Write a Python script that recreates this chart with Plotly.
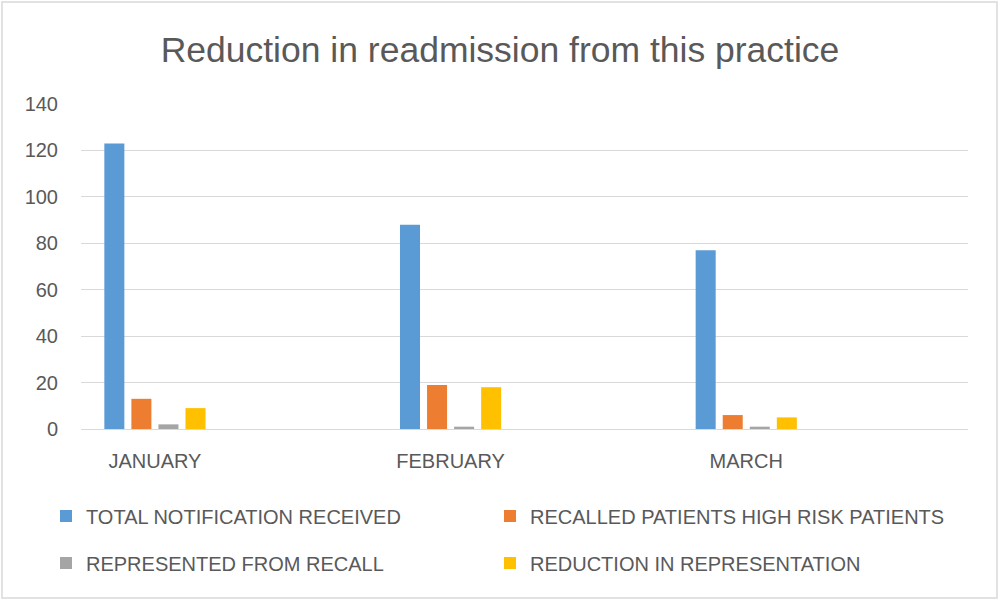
import plotly.graph_objects as go

months = ["JANUARY", "FEBRUARY", "MARCH"]

total_notification = [123, 88, 77]
recalled_high_risk = [13, 19, 6]
represented_from_recall = [2, 1, 1]
reduction_in_representation = [9, 18, 5]

series_names = [
    "TOTAL NOTIFICATION RECEIVED",
    "RECALLED PATIENTS HIGH RISK PATIENTS",
    "REPRESENTED FROM RECALL",
    "REDUCTION IN REPRESENTATION",
]
series_values = [
    total_notification,
    recalled_high_risk,
    represented_from_recall,
    reduction_in_representation,
]
colors = ["#5B9BD5", "#ED7D31", "#A5A5A5", "#FFC000"]

text_color = "#595959"
grid_color = "#D9D9D9"
font_family = "Liberation Sans, Arial, sans-serif"

# one legend per entry so the 2x2 grid sits like the Excel one
legend_ids = ["legend", "legend2", "legend3", "legend4"]
legend_pos = [(0.046, 1 - 516 / 601), (0.490, 1 - 516 / 601),
              (0.046, 1 - 563 / 601), (0.490, 1 - 563 / 601)]

fig = go.Figure()

for name, vals, col, lg in zip(series_names, series_values, colors, legend_ids):
    fig.add_trace(
        go.Bar(
            x=months,
            y=vals,
            name=name,
            marker=dict(color=col, line=dict(width=0)),
            legend=lg,
        )
    )

legend_layout = {}
for lg, (lx, ly) in zip(legend_ids, legend_pos):
    legend_layout[lg] = dict(
        xref="container",
        yref="container",
        x=lx,
        y=ly,
        xanchor="left",
        yanchor="middle",
        font=dict(family=font_family, size=20, color=text_color),
        bgcolor="rgba(0,0,0,0)",
        itemwidth=30,
    )

fig.update_layout(
    width=1000,
    height=601,
    paper_bgcolor="white",
    plot_bgcolor="white",
    barmode="group",
    bargap=0.634,
    bargroupgap=0.26,
    margin=dict(l=81, r=32, t=104, b=172, autoexpand=False),
    title=dict(
        text="Reduction in readmission from this practice",
        x=0.5,
        xanchor="center",
        y=1 - 50 / 601,
        yanchor="middle",
        xref="container",
        yref="container",
        font=dict(family=font_family, size=35.5, color=text_color),
    ),
    showlegend=True,
    shapes=[
        dict(
            type="rect",
            xref="paper",
            yref="paper",
            x0=-0.0891,
            x1=1.0327,
            y0=-0.52,
            y1=1.3138,
            line=dict(color=grid_color, width=1.5),
            fillcolor="rgba(0,0,0,0)",
            layer="below",
        )
    ],
    **legend_layout,
)

fig.update_xaxes(
    type="category",
    range=[-0.25, 2.75],
    showgrid=False,
    showline=True,
    linecolor=grid_color,
    linewidth=1,
    ticks="",
    ticklabelstandoff=14,
    tickfont=dict(family=font_family, size=20, color=text_color),
)

fig.update_yaxes(
    range=[0, 140],
    dtick=20,
    showgrid=True,
    gridcolor=grid_color,
    gridwidth=1,
    zeroline=False,
    showline=False,
    ticks="",
    ticklabelstandoff=22,
    tickfont=dict(family=font_family, size=20, color=text_color),
)

# the page body has a default 8px margin; drop it so the chart fills the window
fig.write_html(
    "out.html",
    config={"displayModeBar": False},
    post_script="document.body.style.margin = '0';",
)
